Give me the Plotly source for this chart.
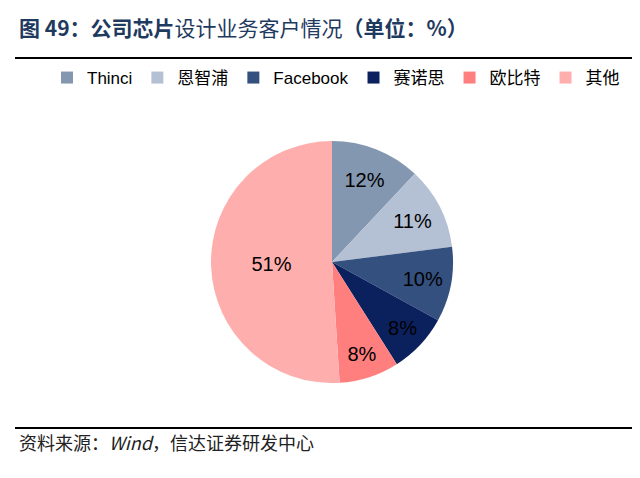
import plotly.graph_objects as go

# customer share of chip design business (%)
customers = ["Thinci", "恩智浦", "Facebook", "赛诺思", "欧比特", "其他"]
shares = [12, 11, 10, 8, 8, 51]
colors = ["#8497B0", "#B4C0D4", "#34507F", "#0B215E", "#FF7F7F", "#FFAEAE"]

W, H = 640, 478
OFF = 8  # page body margin


def px(x):
    return (x - OFF) / W


def py(y):
    return 1 - (y - OFF) / H


fig = go.Figure()
fig.add_trace(go.Pie(
    labels=customers,
    values=shares,
    sort=False,
    direction="clockwise",
    rotation=0,
    marker=dict(colors=colors, line=dict(width=0)),
    texttemplate="%{value}%",
    textposition="inside",
    insidetextorientation="horizontal",
    textfont=dict(family="Liberation Sans, Arial", size=20, color="black"),
    hoverinfo="label+value",
    domain=dict(x=[px(211), px(453)], y=[py(383), py(141)]),
))

# title, source and the two rules
fig.add_annotation(
    text="<b>图 49：公司芯片</b>设计业务客户情况<b>（单位：%）</b>",
    x=px(17), y=py(27), xref="paper", yref="paper",
    xanchor="left", yanchor="middle", showarrow=False,
    font=dict(family="Noto Sans CJK SC", size=21, color="#1F3A5F"),
)
fig.add_annotation(
    text="资料来源：<i>Wind</i>，信达证券研发中心",
    x=px(17), y=py(442), xref="paper", yref="paper",
    xanchor="left", yanchor="middle", showarrow=False,
    font=dict(family="Noto Sans CJK SC", size=18, color="#222222"),
)
for yy in [58, 428]:
    fig.add_shape(type="line", xref="paper", yref="paper",
                  x0=px(15), x1=1, y0=py(yy), y1=py(yy),
                  line=dict(color="black", width=2))

fig.update_layout(
    width=W, height=H,
    margin=dict(l=0, r=0, t=0, b=0, autoexpand=False),
    paper_bgcolor="white",
    plot_bgcolor="white",
    showlegend=True,
    legend=dict(
        orientation="h", x=px(47), xanchor="left",
        y=py(78), yanchor="middle",
        font=dict(family="Liberation Sans, Noto Sans CJK SC", size=17, color="black"),
        itemwidth=30, tracegroupgap=0,
    ),
)

fig.write_html("out.html")
